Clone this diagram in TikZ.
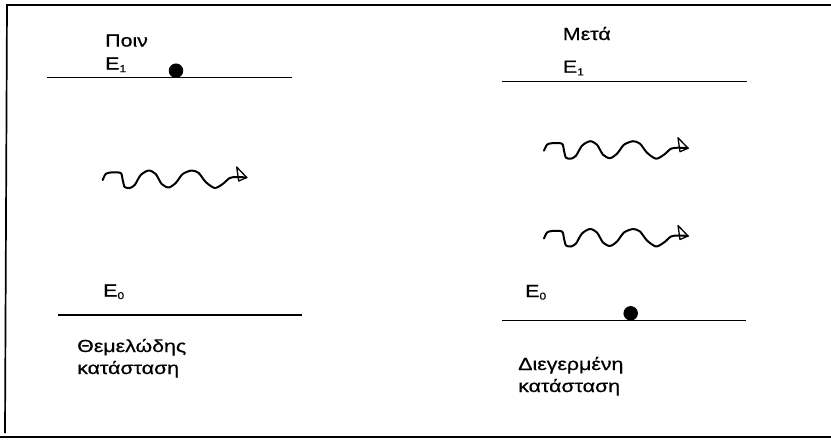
\documentclass[tikz,border=0pt]{standalone}
\usepackage{fontspec}
\setmainfont{Liberation Sans}
\newfontfamily\lblfont[FakeStretch=1.22,FakeBold=0.6]{Liberation Sans}
\begin{document}
\begin{tikzpicture}[x=1pt,y=-1pt,
  lbl/.style={inner sep=0pt, anchor=base west, font=\lblfont\fontsize{17.5}{22}\selectfont, align=left},
  level/.style={line width=1.5pt},
  frameline/.style={line width=1.7pt},
  dotstyle/.style={circle, fill=black, inner sep=0pt, minimum size=14.5pt},
  photon/.pic={
    \draw[line width=2pt, line join=round, line cap=round]
      plot[smooth, tension=0.45] coordinates {(0,0) (3,-6) (8,-7.5) (18,-7) (20,0) (22,7) (27,8) (32,5) (38,-5) (46,-9.5) (53,-6) (59,4) (66,7.5) (73,3) (80,-6) (89,-9.5) (96,-7) (103,2) (112,8) (120,4) (127,-2) (134,-3) (144,-2.5)};
    \draw[line width=1.3pt, line join=round] (134,-13) -- (144,-2.5) -- (136,1) -- cycle;
  }]
\useasboundingbox (0,0) rectangle (831,440);
% frame
\coordinate (ftl) at (7,5);
\coordinate (ftr) at (831,5);
\coordinate (fbl) at (5,433);
\coordinate (bl) at (0,437);
\coordinate (br) at (831,437);
\draw[frameline] (ftr) -- (ftl) -- (fbl);
\draw[line width=2pt] (bl) -- (br);
% left: before
\node[lbl] (poin) at (105,46.5) {Ποιν};
\node[lbl] (e1l) at (105,69.5) {E\textsubscript{\fontsize{10}{10}\selectfont 1}};
\coordinate (e1la) at (47,77.3);
\coordinate (e1lb) at (291.5,77.3);
\draw[level] (e1la) -- (e1lb);
\node[dotstyle] (dotl) at (176,70.7) {};
\pic at (102.7,180) {photon};
\node[lbl] (e0l) at (103,296.5) {E\textsubscript{\fontsize{10}{10}\selectfont 0}};
\coordinate (e0la) at (58,315);
\coordinate (e0lb) at (302,315);
\draw[level] (e0la) -- (e0lb);
\node[lbl] (groundl) at (77,374) {Θεμελώδης\\κατάσταση};
% right: after
\node[lbl] (meta) at (562.7,40) {Μετά};
\node[lbl] (e1r) at (562.7,72.7) {E\textsubscript{\fontsize{10}{10}\selectfont 1}};
\coordinate (e1ra) at (501.7,81.7);
\coordinate (e1rb) at (746.7,81.7);
\draw[level] (e1ra) -- (e1rb);
\pic at (544,150.7) {photon};
\pic at (544,238.5) {photon};
\node[lbl] (e0r) at (525,297) {E\textsubscript{\fontsize{10}{10}\selectfont 0}};
\coordinate (e0ra) at (502,320.7);
\coordinate (e0rb) at (746,320.7);
\draw[level] (e0ra) -- (e0rb);
\node[dotstyle] (dotr) at (630.7,313.3) {};
\node[lbl] (excr) at (518,392) {Διεγερμένη\\κατάσταση};
\end{tikzpicture}
\end{document}
